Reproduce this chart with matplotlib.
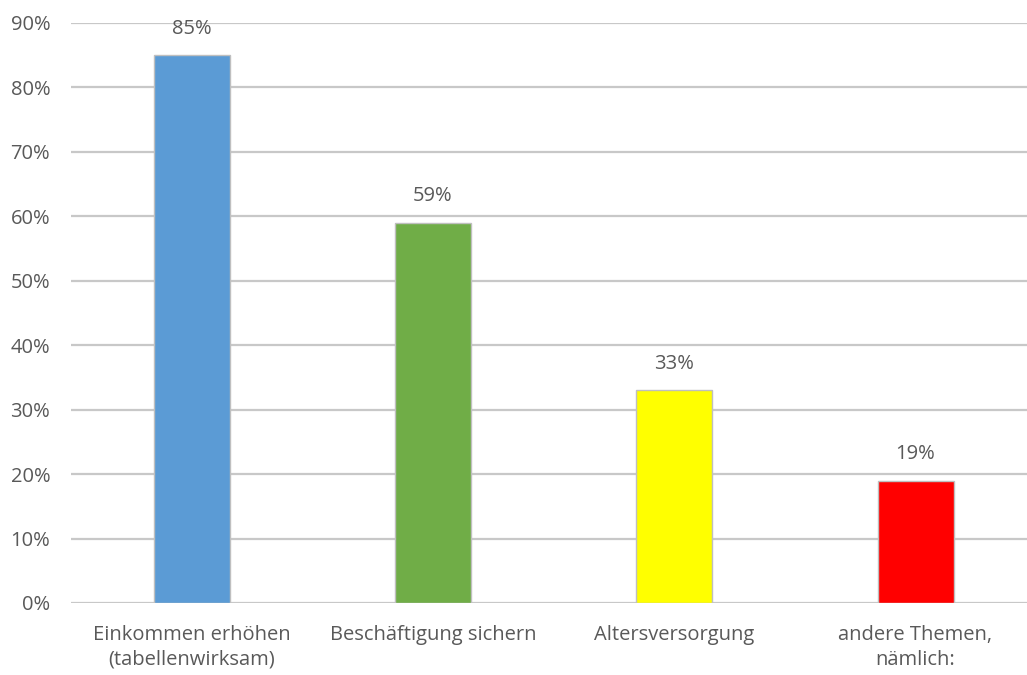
import matplotlib.pyplot as plt
from matplotlib.ticker import FuncFormatter

categories = ['Einkommen erhöhen\n(tabellenwirksam)', 'Beschäftigung sichern',
              'Altersversorgung', 'andere Themen,\nnämlich:']
values = [85, 59, 33, 19]
colors = ['#5b9bd5', '#70ad47', '#ffff00', '#ff0000']

plt.rcParams['font.family'] = ['Open Sans', 'DejaVu Sans']
text_col = '#595959'

fig = plt.figure(figsize=(10.27, 6.75), dpi=100)
ax = fig.add_axes([71 / 1027, 72 / 675, (1027 - 71) / 1027, 580 / 675])

x = range(len(categories))
ax.bar(x, values, width=0.315, color=colors, edgecolor='#bfbfbf', linewidth=1, zorder=3)

for xi, v in zip(x, values):
    ax.annotate(f'{v}%', (xi, v), xytext=(0, 19), textcoords='offset points',
                ha='center', va='center', fontsize=14.5, color=text_col)

ax.set_ylim(0, 90)
ax.set_xlim(-0.5, 3.462)
ax.set_yticks(range(0, 91, 10))
ax.yaxis.set_major_formatter(FuncFormatter(lambda v, p: f'{v:.0f}%'))
ax.set_xticks(list(x))
ax.set_xticklabels(categories, linespacing=1.3)
ax.grid(axis='y', color='#c8c8c8', linewidth=1.6, zorder=0)
ax.tick_params(length=0, labelsize=14.5, labelcolor=text_col)
ax.tick_params(axis='x', pad=16)
ax.tick_params(axis='y', pad=15)
for s in ax.spines.values():
    s.set_visible(False)

fig.savefig('out.png', dpi=100)
